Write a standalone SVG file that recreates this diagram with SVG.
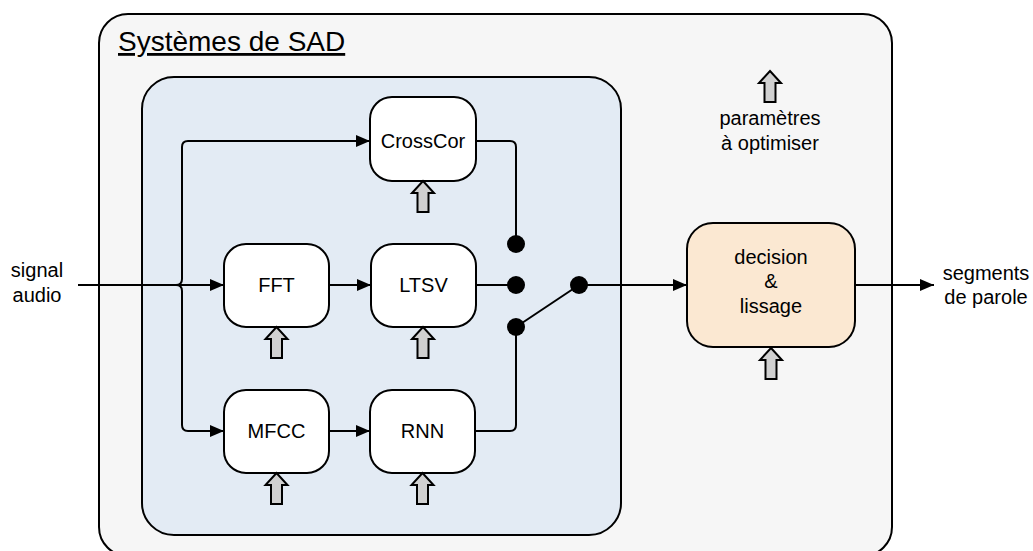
<svg xmlns="http://www.w3.org/2000/svg" width="1033" height="551" viewBox="0 0 1033 551">
  <defs>
    <style>
      text { font-family: "Liberation Sans", Arial, sans-serif; font-size: 20px; fill: #000; text-anchor: middle; }
      .block { fill: #ffffff; stroke: #000; stroke-width: 2; }
      .wire { fill: none; stroke: #000; stroke-width: 2; }
      .param { fill: #d0d0d0; stroke: #000; stroke-width: 2; stroke-linejoin: miter; }
      .dot { fill: #000; }
    </style>
    <marker id="head" markerUnits="userSpaceOnUse" markerWidth="16" markerHeight="12" refX="14" refY="6" orient="auto">
      <path d="M0,0 L14,6 L0,12 Z" fill="#000"/>
    </marker>
    <!-- hollow upward arrow marking a tunable parameter; origin at the tip -->
    <path id="up" d="M0,0 L11,12 L5.5,12 L5.5,31 L-5.5,31 L-5.5,12 L-11,12 Z"/>
  </defs>

  <!-- SAD system container -->
  <g id="sad-system">
    <rect x="99" y="14" width="793" height="542" rx="29" ry="29" fill="#f6f6f6" stroke="#000" stroke-width="2"/>
    <text x="118" y="51" style="font-size:28px;text-anchor:start;text-decoration:underline">Systèmes de SAD</text>
  </g>

  <!-- feature / model pipelines -->
  <g id="pipelines">
    <rect x="142" y="77" width="479" height="458" rx="32" ry="32" fill="#e3ebf4" stroke="#000" stroke-width="2"/>
  </g>

  <!-- legend -->
  <g id="legend">
    <use href="#up" x="770" y="71" class="param"/>
    <text x="770" y="125">paramètres</text>
    <text x="770" y="150">à optimiser</text>
  </g>

  <g id="connectors">
    <line class="wire" x1="78" y1="285" x2="224" y2="285" marker-end="url(#head)"/>
    <path class="wire" d="M176,285 Q182,285 182,279 L182,147 Q182,141 188,141 L370,141" marker-end="url(#head)"/>
    <path class="wire" d="M176,285 Q182,285 182,291 L182,425 Q182,431 188,431 L224,431" marker-end="url(#head)"/>
    <line class="wire" x1="329" y1="285" x2="371" y2="285" marker-end="url(#head)"/>
    <line class="wire" x1="329" y1="431" x2="370" y2="431" marker-end="url(#head)"/>
    <path class="wire" d="M476,141 L510,141 Q516,141 516,147 L516,244"/>
    <line class="wire" x1="476" y1="285" x2="516" y2="285"/>
    <path class="wire" d="M475,431 L510,431 Q516,431 516,425 L516,327"/>
    <line class="wire" x1="516" y1="327" x2="579" y2="285"/>
    <line class="wire" x1="579" y1="285" x2="687" y2="285" marker-end="url(#head)"/>
    <line class="wire" x1="855" y1="285" x2="934" y2="285" marker-end="url(#head)"/>
    <circle class="dot" cx="516" cy="244" r="9"/>
    <circle class="dot" cx="516" cy="285" r="9"/>
    <circle class="dot" cx="516" cy="327" r="9"/>
    <circle class="dot" cx="579" cy="285" r="9"/>
  </g>

  <g id="crosscor">
    <rect class="block" x="370" y="97" width="106" height="84" rx="22" ry="22"/>
    <text x="423" y="148">CrossCor</text>
    <use href="#up" x="423" y="181" class="param"/>
  </g>

  <g id="fft">
    <rect class="block" x="224" y="244" width="105" height="83" rx="22" ry="22"/>
    <text x="276.5" y="292">FFT</text>
    <use href="#up" x="276.5" y="327" class="param"/>
  </g>

  <g id="ltsv">
    <rect class="block" x="371" y="244" width="105" height="83" rx="22" ry="22"/>
    <text x="423.5" y="292">LTSV</text>
    <use href="#up" x="423" y="327" class="param"/>
  </g>

  <g id="mfcc">
    <rect class="block" x="224" y="390" width="105" height="83" rx="22" ry="22"/>
    <text x="276.5" y="438">MFCC</text>
    <use href="#up" x="276.5" y="473" class="param"/>
  </g>

  <g id="rnn">
    <rect class="block" x="370" y="390" width="105" height="83" rx="22" ry="22"/>
    <text x="422.5" y="438">RNN</text>
    <use href="#up" x="422.5" y="473" class="param"/>
  </g>

  <g id="decision">
    <rect x="687" y="223" width="168" height="124" rx="26" ry="26" fill="#fbe8d2" stroke="#000" stroke-width="2"/>
    <text x="771" y="264">decision</text>
    <text x="771" y="288">&amp;</text>
    <text x="771" y="313">lissage</text>
    <use href="#up" x="771" y="348" class="param"/>
  </g>

  <g id="input">
    <text x="37" y="277">signal</text>
    <text x="37" y="302">audio</text>
  </g>

  <g id="output">
    <text x="986" y="280">segments</text>
    <text x="986" y="304">de parole</text>
  </g>
</svg>
